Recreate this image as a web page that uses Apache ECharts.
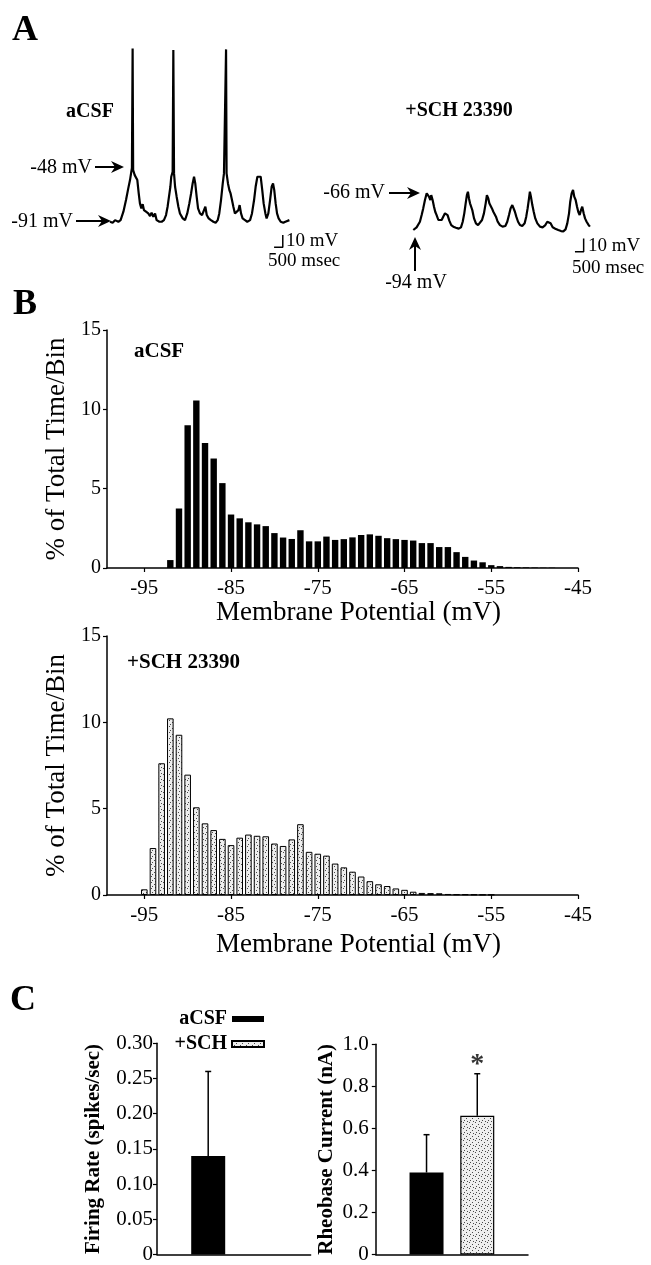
<!DOCTYPE html>
<html>
<head>
<meta charset="utf-8">
<script src="https://cdn.jsdelivr.net/npm/echarts@6/dist/echarts.min.js"></script>
<style>
html,body{margin:0;padding:0;background:#fff;}
#chart{width:651px;height:1265px;}
</style>
</head>
<body>
<div id="chart"></div>
<script>
// ---------- Panel A: membrane potential traces (time in s, potential in mV) ----------
const acsfTraceT = [0,0.15,0.29,0.48,0.61,0.77,0.92,1.05,1.15,1.21,1.26,1.30,1.33,1.42,1.49,1.57,1.65,1.72,1.80,1.88,1.95,2.07,2.20,2.30,2.39,2.49,2.59,2.68,2.84,2.97,3.10,3.22,3.31,3.39,3.47,3.52,3.60,3.64,3.68,3.74,3.83,3.93,4.02,4.18,4.31,4.44,4.56,4.66,4.75,4.83,4.90,4.98,5.06,5.17,5.29,5.40,5.48,5.56,5.67,5.80,5.94,6.07,6.19,6.28,6.38,6.48,6.55,6.63,6.67,6.70,6.78,6.86,6.93,7.01,7.09,7.18,7.28,7.38,7.45,7.53,7.62,7.76,7.89,8.05,8.16,8.28,8.37,8.47,8.56,8.66,8.75,8.83,8.93,9.00,9.10,9.20,9.29,9.37,9.44,9.52,9.60,9.69,9.81,9.96,10.08,10.19,10.31];
const acsfTraceV = [-91,-91.8,-89.7,-91,-89.7,-82.9,-73.5,-64.1,-57.4,-52,-47.5,48.8,-49.3,-53.4,-52,-57.4,-68.2,-76.2,-80.2,-76.8,-81.6,-82.9,-84.3,-86.4,-83.7,-87,-84.3,-89.7,-91,-91,-89.7,-85.6,-78.9,-70.8,-62.8,-54.7,-50.7,47.4,-52,-62.8,-70.8,-78.9,-84.3,-88.3,-89.7,-84.3,-76.2,-68.2,-60.1,-54.7,-60.1,-70.8,-80.2,-84.3,-85.6,-84.3,-78.9,-85.6,-88.3,-89.7,-91,-91.8,-89.7,-84.3,-73.5,-60.1,-52,-50.7,48,-52,-60.1,-65.5,-68.2,-73.5,-78.9,-84.3,-85.6,-81.6,-77.6,-84.3,-88.3,-89.7,-91,-89.7,-84.3,-73.5,-62.8,-54.7,-54.2,-54.7,-65.5,-76.2,-84.3,-88.3,-84.3,-73.5,-62.8,-60.1,-65.5,-76.2,-84.3,-88.3,-91,-91.8,-91,-92.3,-89.7];
const schTraceT = [0,0.1,0.19,0.29,0.38,0.48,0.57,0.67,0.77,0.84,0.9,0.98,1.03,1.11,1.19,1.26,1.34,1.44,1.53,1.63,1.72,1.82,1.90,1.97,2.07,2.18,2.30,2.45,2.61,2.74,2.84,2.93,3.01,3.08,3.14,3.20,3.26,3.31,3.39,3.49,3.60,3.72,3.83,3.95,4.06,4.16,4.23,4.31,4.37,4.44,4.52,4.60,4.67,4.75,4.85,4.98,5.13,5.29,5.40,5.50,5.59,5.69,5.77,5.84,5.92,6.02,6.13,6.26,6.40,6.49,6.57,6.65,6.70,6.76,6.84,6.92,7.01,7.13,7.28,7.43,7.59,7.70,7.80,7.89,8.01,8.16,8.33,8.49,8.62,8.75,8.85,8.95,9.02,9.10,9.18,9.25,9.33,9.41,9.48,9.56,9.64,9.71,9.79,9.87,9.96,10.08,10.15];
const schTraceV = [-94,-93.5,-92,-91.5,-87.8,-82.8,-77.8,-71.5,-66.5,-65.3,-69,-71.5,-67.8,-71.5,-76.5,-80.3,-82.8,-86.5,-87.8,-86.5,-84,-81.5,-80.3,-82.8,-87,-90.3,-91.5,-92.3,-93,-92,-87.8,-81.5,-74,-67.8,-65.3,-70.3,-74,-72.8,-79,-85.3,-89,-90.3,-89,-86.5,-81.5,-74,-67.8,-70.3,-74,-72.8,-77.8,-80.3,-79,-84,-87.8,-90.3,-91.5,-91,-87.8,-82.8,-77.8,-75.3,-76.5,-80.3,-84,-87.8,-90.3,-91,-89,-84,-77.8,-70.3,-65.3,-69,-75.3,-80.3,-85.3,-89,-91.5,-92,-90.3,-87.8,-87,-89,-92,-93,-94,-94.8,-95,-93.5,-89,-81.5,-72.8,-66.5,-64,-69,-71.5,-76.5,-80.3,-82.8,-79,-76.5,-81.5,-85.3,-87.8,-90.3,-91.5];
// scale bars: [start time s, baseline mV], length 500 msec x 10 mV
const scaleBarMs = 500, scaleBarMv = 10;
const acsfScaleAnchor = [9.43, -111.6];
const schScaleAnchor = [9.29, -110.3];

// ---------- Panel B: histograms (bin centre mV, % of total time) ----------
const acsfBins = [-92,-91,-90,-89,-88,-87,-86,-85,-84,-83,-82,-81,-80,-79,-78,-77,-76,-75,-74,-73,-72,-71,-70,-69,-68,-67,-66,-65,-64,-63,-62,-61,-60,-59,-58,-57,-56,-55,-54,-53,-52,-51,-50,-49,-48];
const acsfPct  = [0.5,3.75,9.0,10.55,7.88,6.9,5.35,3.37,3.13,2.88,2.75,2.64,2.2,1.92,1.83,2.38,1.68,1.68,1.98,1.77,1.82,1.93,2.08,2.12,2.03,1.88,1.82,1.77,1.73,1.57,1.57,1.32,1.32,1.0,0.7,0.47,0.36,0.18,0.12,0.07,0.05,0.04,0.03,0.02,0.02];
const schBins = [-95,-94,-93,-92,-91,-90,-89,-88,-87,-86,-85,-84,-83,-82,-81,-80,-79,-78,-77,-76,-75,-74,-73,-72,-71,-70,-69,-68,-67,-66,-65,-64,-63,-62,-61,-60,-59,-58,-57,-56,-55];
const schPct  = [0.33,2.72,7.63,10.23,9.28,6.97,5.08,4.15,3.76,3.25,2.89,3.32,3.5,3.43,3.4,2.98,2.84,3.22,4.1,2.5,2.39,2.28,1.82,1.6,1.35,1.07,0.8,0.62,0.52,0.38,0.3,0.19,0.12,0.11,0.1,0.06,0.04,0.04,0.03,0.02,0.02];
const histTicks = [-95,-85,-75,-65,-55,-45];

// ---------- Panel C: summary bars ----------
const groups = ['aCSF', '+SCH'];
const groupPos = [1, 2];
const firingMean = [0.14, 0];
const firingErr  = [0.12, 0];
const rheoMean = [0.39, 0.66];
const rheoErr  = [0.18, 0.20];

const SERIF = '"Liberation Serif", "DejaVu Serif", serif';

function stipple() {
  const c = document.createElement('canvas');
  c.width = 6; c.height = 6;
  const g = c.getContext('2d');
  g.fillStyle = '#eeeeee'; g.fillRect(0, 0, 6, 6);
  g.fillStyle = '#4a4a4a';
  g.fillRect(1, 0, 1, 1); g.fillRect(4, 2, 1, 1); g.fillRect(2, 4, 1, 1); g.fillRect(5, 5, 1, 1);
  return c;
}
const dots = { image: stipple(), repeat: 'repeat' };

const zip = (a, b) => a.map((v, i) => [v, b[i]]);
const scaleBar = (anchor) => [
  [anchor[0], anchor[1]],
  [anchor[0] + scaleBarMs / 1000, anchor[1]],
  [anchor[0] + scaleBarMs / 1000, anchor[1] + scaleBarMv]
];

const errRender = (params, api) => {
  const x = api.value(0), y = api.value(1), e = api.value(2);
  if (!e) return null;
  const p1 = api.coord([x, y]), p2 = api.coord([x, y + e]);
  return { type: 'group', children: [
    { type: 'line', shape: { x1: p1[0], y1: p1[1], x2: p2[0], y2: p2[1] }, style: { stroke: '#000', lineWidth: 1.5 } },
    { type: 'line', shape: { x1: p2[0] - 3, y1: p2[1], x2: p2[0] + 3, y2: p2[1] }, style: { stroke: '#000', lineWidth: 1.5 } }
  ]};
};

const hiddenAxis = (i, min, max) => ({ gridIndex: i, type: 'value', min, max, show: false });
const axLine = { show: true, lineStyle: { color: '#000', width: 1.5 } };

const histX = (i) => ({
  gridIndex: i, type: 'value', min: -99.3, max: -45,
  axisLine: Object.assign({ onZero: false }, axLine),
  axisTick: { show: true, inside: false, length: 4, customValues: histTicks, lineStyle: { color: '#000', width: 1.2 } },
  axisLabel: { customValues: histTicks, color: '#000', fontFamily: SERIF, fontSize: 21, margin: 10 },
  splitLine: { show: false },
  name: 'Membrane Potential (mV)', nameLocation: 'middle', nameGap: i === 2 ? 31 : 36,
  nameTextStyle: { color: '#000', fontFamily: SERIF, fontSize: 27, padding: [0, 0, 0, 32] }
});
const histY = (i) => ({
  gridIndex: i, type: 'value', min: 0, max: 15, interval: 5,
  axisLine: axLine,
  axisTick: { show: true, inside: false, length: 4, lineStyle: { color: '#000', width: 1.2 } },
  axisLabel: { color: '#000', fontFamily: SERIF, fontSize: 20, margin: 6 },
  splitLine: { show: false },
  name: '% of Total Time/Bin', nameLocation: 'middle', nameGap: 35,
  nameTextStyle: { color: '#000', fontFamily: SERIF, fontSize: 27 }
});
const cX = (i) => ({
  gridIndex: i, type: 'value', min: 0, max: 3,
  axisLine: axLine, axisTick: { show: false }, axisLabel: { show: false }, splitLine: { show: false }
});
const cY = (i, max, interval, digits, name, gap, margin) => ({
  gridIndex: i, type: 'value', min: 0, max, interval,
  axisLine: axLine,
  axisTick: { show: true, inside: false, length: 4, lineStyle: { color: '#000', width: 1.2 } },
  axisLabel: { color: '#000', fontFamily: SERIF, fontSize: 21, margin,
    formatter: v => v === 0 ? '0' : v.toFixed(digits) },
  splitLine: { show: false },
  name, nameLocation: 'middle', nameGap: gap,
  nameTextStyle: { color: '#000', fontFamily: SERIF, fontSize: 21, fontWeight: 'bold' }
});

const txt = (text, x, y, size, bold, align, vAlign) => ({
  type: 'text', style: { text, x, y, fill: '#000',
    font: (bold ? 'bold ' : '') + size + 'px ' + SERIF,
    align: align || 'left', verticalAlign: vAlign || 'middle' }
});
const arrowR = (x1, x2, y) => [
  { type: 'line', shape: { x1, y1: y, x2: x2 - 6, y2: y }, style: { stroke: '#000', lineWidth: 2 } },
  { type: 'polygon', shape: { points: [[x2 - 13, y - 6], [x2, y], [x2 - 13, y + 6], [x2 - 9, y]] }, style: { fill: '#000' } }
];
const arrowUp = (x, y1, y2) => [
  { type: 'line', shape: { x1: x, y1, x2: x, y2: y2 + 6 }, style: { stroke: '#000', lineWidth: 2 } },
  { type: 'polygon', shape: { points: [[x - 6, y2 + 13], [x, y2], [x + 6, y2 + 13], [x, y2 + 9]] }, style: { fill: '#000' } }
];

const barItem = (pos, val, isSch) => ({
  value: [pos, val],
  itemStyle: isSch
    ? { color: dots, borderColor: '#000', borderWidth: val > 0 ? 1.2 : 0 }
    : { color: '#000' }
});

const option = {
  backgroundColor: '#fff',
  animation: false,
  grid: [
    { left: 110, top: 34.5, width: 191.4, height: 217 },
    { left: 413.3, top: 178, width: 191.4, height: 80 },
    { left: 107, top: 330, width: 471, height: 238 },
    { left: 107, top: 636, width: 471, height: 259 },
    { left: 157, top: 1043.3, width: 153.6, height: 212.7 },
    { left: 375.8, top: 1044.3, width: 152.2, height: 211.7 }
  ],
  xAxis: [ hiddenAxis(0, 0, 11), hiddenAxis(1, 0, 11), histX(2), histX(3), cX(4), cX(5) ],
  yAxis: [
    hiddenAxis(0, -115, 60), hiddenAxis(1, -115, -55), histY(2), histY(3),
    cY(4, 0.3, 0.05, 2, 'Firing Rate (spikes/sec)', 53, 4),
    cY(5, 1.0, 0.2, 1, 'Rheobase Current (nA)', 39, 7)
  ],
  legend: {
    data: groups, orient: 'vertical', align: 'right', right: 381, top: 1004,
    itemWidth: 32, itemHeight: 6, itemGap: 5, icon: 'rect', selectedMode: false,
    textStyle: { color: '#000', fontFamily: SERIF, fontSize: 20, fontWeight: 'bold', lineHeight: 20 }
  },
  series: [
    { type: 'line', xAxisIndex: 0, yAxisIndex: 0, data: zip(acsfTraceT, acsfTraceV), symbol: 'none',
      lineStyle: { color: '#000', width: 2.2 }, silent: true },
    { type: 'line', xAxisIndex: 0, yAxisIndex: 0, data: scaleBar(acsfScaleAnchor), symbol: 'none',
      lineStyle: { color: '#000', width: 1.5 }, silent: true },
    { type: 'line', xAxisIndex: 1, yAxisIndex: 1, data: zip(schTraceT, schTraceV), symbol: 'none',
      lineStyle: { color: '#000', width: 2.2 }, silent: true },
    { type: 'line', xAxisIndex: 1, yAxisIndex: 1, data: scaleBar(schScaleAnchor), symbol: 'none',
      lineStyle: { color: '#000', width: 1.5 }, silent: true },
    { type: 'bar', name: 'aCSF hist', xAxisIndex: 2, yAxisIndex: 2, data: zip(acsfBins, acsfPct),
      barWidth: 6.4, itemStyle: { color: '#000' }, silent: true },
    { type: 'bar', name: 'SCH hist', xAxisIndex: 3, yAxisIndex: 3, data: zip(schBins, schPct),
      barWidth: 6.6, itemStyle: { color: dots, borderColor: '#000', borderWidth: 1 }, silent: true },
    { type: 'bar', name: 'aCSF', xAxisIndex: 4, yAxisIndex: 4, data: [barItem(groupPos[0], firingMean[0], false)],
      barWidth: 34, barGap: '-100%', itemStyle: { color: '#000' }, silent: true },
    { type: 'bar', name: '+SCH', xAxisIndex: 4, yAxisIndex: 4, data: [barItem(groupPos[1], firingMean[1], true)],
      barWidth: 34, barGap: '-100%', itemStyle: { color: dots, borderColor: '#000', borderWidth: 1.2 }, silent: true },
    { type: 'custom', xAxisIndex: 4, yAxisIndex: 4, renderItem: errRender,
      data: groupPos.map((p, i) => [p, firingMean[i], firingErr[i]]), silent: true, z: 5 },
    { type: 'bar', name: 'aCSF', xAxisIndex: 5, yAxisIndex: 5, data: [barItem(groupPos[0], rheoMean[0], false)],
      barWidth: 34, barGap: '-100%', itemStyle: { color: '#000' }, silent: true },
    { type: 'bar', name: '+SCH', xAxisIndex: 5, yAxisIndex: 5, data: [barItem(groupPos[1], rheoMean[1], true)],
      barWidth: 34, barGap: '-100%', itemStyle: { color: dots, borderColor: '#000', borderWidth: 1.2 }, silent: true },
    { type: 'custom', xAxisIndex: 5, yAxisIndex: 5, renderItem: errRender,
      data: groupPos.map((p, i) => [p, rheoMean[i], rheoErr[i]]), silent: true, z: 5 },
    { type: 'scatter', xAxisIndex: 5, yAxisIndex: 5, data: [[groupPos[1], rheoMean[1] + rheoErr[1]]],
      symbolSize: 1, itemStyle: { color: 'transparent' }, silent: true,
      label: { show: true, position: 'top', distance: 0, offset: [0, 6], formatter: '*', color: '#000',
        fontFamily: SERIF, fontSize: 28, fontWeight: 'bold' } }
  ],
  graphic: [
    txt('A', 12, 31, 36, true),
    txt('B', 13, 305, 36, true),
    txt('C', 10, 1001, 36, true),
    txt('aCSF', 90, 112, 20, true, 'center'),
    txt('+SCH 23390', 459, 111, 20, true, 'center'),
    txt('-48 mV', 92, 168, 20, false, 'right'),
    ...arrowR(95, 124, 167),
    txt('-91 mV', 73, 222, 20, false, 'right'),
    ...arrowR(76, 111, 221),
    txt('-66 mV', 385, 193, 20, false, 'right'),
    ...arrowR(389, 420, 193),
    ...arrowUp(415, 271, 237),
    txt('-94 mV', 416, 283, 20, false, 'center'),
    txt('10 mV', 286, 241, 19, false),
    txt('500 msec', 268, 261, 19, false),
    txt('10 mV', 588, 246, 19, false),
    txt('500 msec', 572, 268, 19, false),
    txt('aCSF', 134, 352, 21, true),
    txt('+SCH 23390', 127, 663, 21, true)
  ]
};

const chart = echarts.init(document.getElementById('chart'), null, { renderer: 'canvas' });
chart.setOption(option);
</script>
</body>
</html>
